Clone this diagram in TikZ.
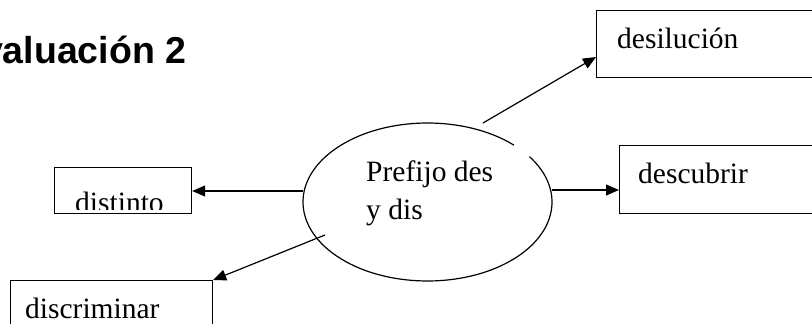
\documentclass[tikz,border=0pt]{standalone}
\usepackage{fontspec}
\setmainfont{Liberation Serif}
\newfontfamily\titlefont{Liberation Sans}
\usetikzlibrary{arrows.meta,shapes.geometric,calc}
\begin{document}
\begin{tikzpicture}[x=1pt,y=-1pt,
  boxstyle/.style={draw,line width=1.2pt,rectangle,inner sep=0pt,anchor=north west},
  wordstyle/.style={inner sep=0pt,anchor=base west,font=\fontsize{29.5}{36}\selectfont},
  conn/.style={line width=1.2pt,-{Triangle[length=13pt,width=11pt]}}]
\useasboundingbox (0,0) rectangle (812,324);
\clip (0,0) rectangle (812,324);
\fill[white] (0,0) rectangle (812,324);
% title
\node[inner sep=0pt,anchor=base east,font=\titlefont\bfseries\fontsize{37.5}{40}\selectfont] (title) at (186.5,63) {Evaluación 2};
% boxes
\node[boxstyle,minimum width=240pt,minimum height=67pt] (bdes) at (596,10) {};
\node[boxstyle,minimum width=220pt,minimum height=68pt] (bdescu) at (619,145) {};
\node[boxstyle,minimum width=137pt,minimum height=46pt] (bdist) at (54,167) {};
\node[boxstyle,minimum width=202pt,minimum height=60pt] (bdisc) at (10,280) {};
% box texts
\node[wordstyle] (tdes) at (617,48) {desilución};
\node[wordstyle] (tdescu) at (638,183) {descubrir};
\begin{scope}
\clip (55,168) rectangle (190,209.5);
\node[wordstyle] (tdist) at (75,212) {distinto};
\end{scope}
\node[wordstyle] (tdisc) at (25,318) {discriminar};
% ellipse
\node[ellipse,draw=none,minimum width=249pt,minimum height=158pt,inner sep=0pt] (pre) at (427.5,202) {};
\draw[line width=1.2pt] ($(pre.center)+(46:124.5pt and 79pt)$) arc[start angle=46,end angle=395,x radius=124.5pt,y radius=79pt];
\node[inner sep=0pt,anchor=base west,align=left,font=\fontsize{29.5}{37.5}\selectfont] (tpre) at (366,219) {Prefijo des\\y dis};
% connector start points
\coordinate (s1) at (483,123);
\coordinate (s2) at (552,190);
\coordinate (s3) at (303,191);
\coordinate (s4) at (325,235);
\draw[conn] (s1) -- (bdes.west |- 0,57);
\draw[conn] (s2) -- (bdescu.west |- s2);
\draw[conn] (s3) -- (bdist.east |- s3);
\draw[conn] (s4) -- (bdisc.north east);
\end{tikzpicture}
\end{document}
